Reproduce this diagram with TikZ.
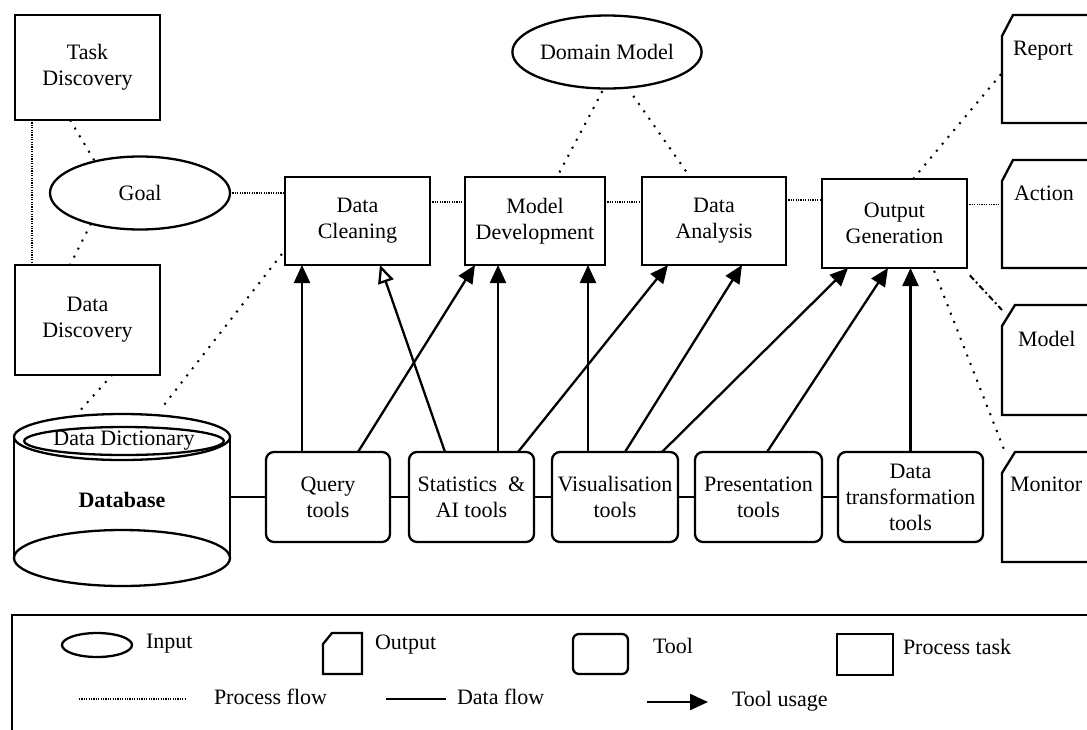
\documentclass[tikz,border=0pt]{standalone}
\usepackage{fontspec}
\setmainfont{Liberation Serif}
\usetikzlibrary{arrows.meta,shapes.geometric,calc}

% chamfered output outline drawn from the anchors of an invisible node
\newcommand\chamferbox[3]{%
  \draw[obox] ([xshift=#2]#1.north west) -- (#1.north east) -- (#1.south east)
    -- (#1.south west) -- ([yshift=-#3]#1.north west) -- cycle;}

\begin{document}
\begin{tikzpicture}[x=1pt,y=-1pt,
  every node/.style={font=\fontsize{22}{26}\selectfont, inner sep=0pt, outer sep=0pt},
  task/.style={draw, line width=2.3pt, align=center},
  toolbox/.style={draw, line width=2.3pt, rounded corners=8pt, align=center},
  inp/.style={draw, ellipse, line width=2.3pt},
  outp/.style={rectangle},
  obox/.style={line width=2.3pt, line join=miter},
  pflow/.style={line width=1.4pt, dash pattern=on 1.2pt off 1.2pt},
  sparse/.style={line width=2pt, dash pattern=on 2pt off 7pt},
  dashdot/.style={line width=2pt, dash pattern=on 6pt off 3pt on 2pt off 3pt},
  dflow/.style={line width=2.3pt},
  usage/.style={line width=2.3pt, -{Triangle[length=18pt,width=16pt]}},
  usageopen/.style={line width=2.3pt, -{Triangle[open,length=18pt,width=16pt]}}]

\useasboundingbox (0,0) rectangle (1087,729);
\clip (0,0) rectangle (1087,729);
\fill[white] (0,0) rectangle (1087,729);

% process tasks
\node[task, minimum width=145pt, minimum height=105pt] (td) at (87.5,67.5) {Task\\Discovery};
\node[task, minimum width=145pt, minimum height=110pt] (dd) at (87.5,320) {Data\\Discovery};
\node[task, minimum width=145pt, minimum height=88pt] (dc) at (357.5,221) {Data\\Cleaning};
\node[task, minimum width=140pt, minimum height=88pt] (md) at (535,221) {Model\\Development};
\node[task, minimum width=144pt, minimum height=88pt] (da) at (714,221) {Data\\Analysis};
\node[task, minimum width=145pt, minimum height=89pt] (og) at (894.5,223.5) {Output\\Generation};

% inputs
\node[inp, minimum width=180pt, minimum height=73pt] (goal) at (140,193) {Goal};
\node[inp, minimum width=180pt, minimum height=73pt] (dm) at (607,52) {Domain Model};

% outputs
\node[outp, minimum width=128pt, minimum height=108pt] (rep) at (1066,69) {};
\node[outp, minimum width=128pt, minimum height=108pt] (act) at (1066,214) {};
\node[outp, minimum width=128pt, minimum height=110pt] (mdl) at (1066,360) {};
\node[outp, minimum width=128pt, minimum height=110pt] (mon) at (1066,507) {};
\chamferbox{rep}{11pt}{21pt}
\chamferbox{act}{11pt}{21pt}
\chamferbox{mdl}{13pt}{21pt}
\chamferbox{mon}{13pt}{21pt}
\node[anchor=west] (repT) at ([xshift=11pt,yshift=-36pt]rep.north west) {Report};
\node[anchor=west] (actT) at ([xshift=12pt,yshift=-33pt]act.north west) {Action};
\node[anchor=west] (mdlT) at ([xshift=16pt,yshift=-34pt]mdl.north west) {Model};
\node[anchor=west] (monT) at ([xshift=8pt,yshift=-32pt]mon.north west) {Monitor};

% database cylinder
\node[minimum width=216pt, minimum height=172pt, font=\fontsize{22}{26}\selectfont\bfseries] (db) at (122,500) {Database};
\draw[line width=2.3pt] (db.north west |- 0,437) -- (db.south west |- 0,558);
\draw[line width=2.3pt] (db.north east |- 0,437) -- (db.south east |- 0,558);
\draw[line width=2.3pt] (122,437) ellipse [x radius=108, y radius=23];
\draw[line width=2.3pt] (122,558) ellipse [x radius=108, y radius=28];
\node[inp, minimum width=178pt, minimum height=28pt] (dict) at (124,441) {Data Dictionary};

% tools
\node[toolbox, minimum width=124pt, minimum height=90pt] (q) at (328,497) {Query\\tools};
\node[toolbox, minimum width=125pt, minimum height=90pt] (st) at (471.5,497) {Statistics~~\&\\AI tools};
\node[toolbox, minimum width=126pt, minimum height=90pt] (vis) at (615,497) {Visualisation\\tools};
\node[toolbox, minimum width=127pt, minimum height=90pt] (pres) at (758.5,497) {Presentation\\tools};
\node[toolbox, minimum width=145pt, minimum height=90pt] (dt) at (910.5,497) {Data\\transformation\\tools};

% process flow
\draw[pflow] ([xshift=17pt]td.south west) -- ([xshift=17pt]dd.north west);
\draw[sparse] ([xshift=55pt]td.south west) -- (goal.145);
\draw[sparse] (goal.212) -- ([xshift=55pt]dd.north west);
\draw[pflow] (goal.east) -- (goal.east -| dc.west);
\draw[pflow] ([yshift=19pt]dc.east) -- ([yshift=19pt]dc.east -| md.west);
\draw[pflow] ([yshift=19pt]md.east) -- ([yshift=19pt]md.east -| da.west);
\draw[pflow] ([yshift=21pt]da.east) -- ([yshift=21pt]da.east -| og.west);
\draw[pflow] ([yshift=19pt]og.east) -- ([yshift=19pt]og.east -| act.west);
\draw[sparse, shorten <=3pt] (dm.265) -- ([xshift=92pt]md.north west);
\draw[sparse, shorten <=10pt] (dm.300) -- ([xshift=48pt]da.north west);
\draw[sparse] ([xshift=18.5pt]og.north) -- ([yshift=-4pt]rep.west);
\draw[dashdot, shorten <=10pt] ([xshift=-4pt]og.south east) -- ([yshift=-5pt]mdl.north west);
\draw[sparse, shorten <=3pt] ([xshift=38.5pt]og.south) -- ([xshift=3pt]mon.north west);
\draw[sparse, shorten <=6pt] ([xshift=-45pt]db.north) -- ([xshift=-48pt]dd.south east);
\draw[sparse, shorten <=12pt] ([xshift=35pt]db.north) -- ([yshift=15pt]dc.south west);

% data flow
\draw[dflow] (db.east |- q.west) -- (q.west);
\draw[dflow] (q.east) -- (st.west);
\draw[dflow] (st.east) -- (vis.west);
\draw[dflow] (vis.east) -- (pres.west);
\draw[dflow] (pres.east) -- (dt.west);

% tool usage
\draw[usage] ([xshift=-26pt]q.north) -- ([xshift=17pt]dc.south west);
\draw[usage] ([xshift=30pt]q.north) -- ([xshift=10pt]md.south west);
\draw[usageopen] ([xshift=-26.5pt]st.north) -- ([xshift=95pt]dc.south west);
\draw[usage] ([xshift=26.5pt]st.north) -- ([xshift=33pt]md.south west);
\draw[usage] ([xshift=46.5pt]st.north) -- ([xshift=26pt]da.south west);
\draw[usage] ([xshift=-27pt]vis.north) -- ([xshift=123pt]md.south west);
\draw[usage] ([xshift=10pt]vis.north) -- ([xshift=100pt]da.south west);
\draw[usage] ([xshift=47pt]vis.north) -- ([xshift=26pt]og.south west);
\draw[usage] ([xshift=8.5pt]pres.north) -- ([xshift=66pt]og.south west);
\draw[usage] (dt.north) -- (dt.north |- og.south);

% legend
\node[draw, line width=1.8pt, minimum width=1088pt, minimum height=130pt] (legend) at (556,680) {};
\node[inp, minimum width=70pt, minimum height=24pt] (lin) at (97,645) {};
\node[anchor=west] (linT) at (146,644) {Input};
\node[outp, minimum width=39pt, minimum height=41pt] (lout) at (342.5,653.5) {};
\chamferbox{lout}{9pt}{11pt}
\node[anchor=west] (loutT) at (375,645) {Output};
\node[toolbox, rounded corners=6pt, minimum width=55pt, minimum height=40pt] (ltool) at (600.5,654) {};
\node[anchor=west] (ltoolT) at (653,646) {Tool};
\node[task, minimum width=56pt, minimum height=41pt] (ltask) at (865,654.5) {};
\node[anchor=west] (ltaskT) at (903,647) {Process task};
\coordinate (pfA) at (79,699);
\coordinate (pfB) at (186,699);
\draw[pflow] (pfA) -- (pfB);
\node[anchor=west] (pfT) at (214,697) {Process flow};
\coordinate (dfA) at (386,699);
\coordinate (dfB) at (446,699);
\draw[dflow] (dfA) -- (dfB);
\node[anchor=west] (dfT) at (457,697) {Data flow};
\coordinate (tuA) at (647,702);
\coordinate (tuB) at (708,702);
\draw[usage] (tuA) -- (tuB);
\node[anchor=west] (tuT) at (732,701) {Tool usage};
\end{tikzpicture}
\end{document}
